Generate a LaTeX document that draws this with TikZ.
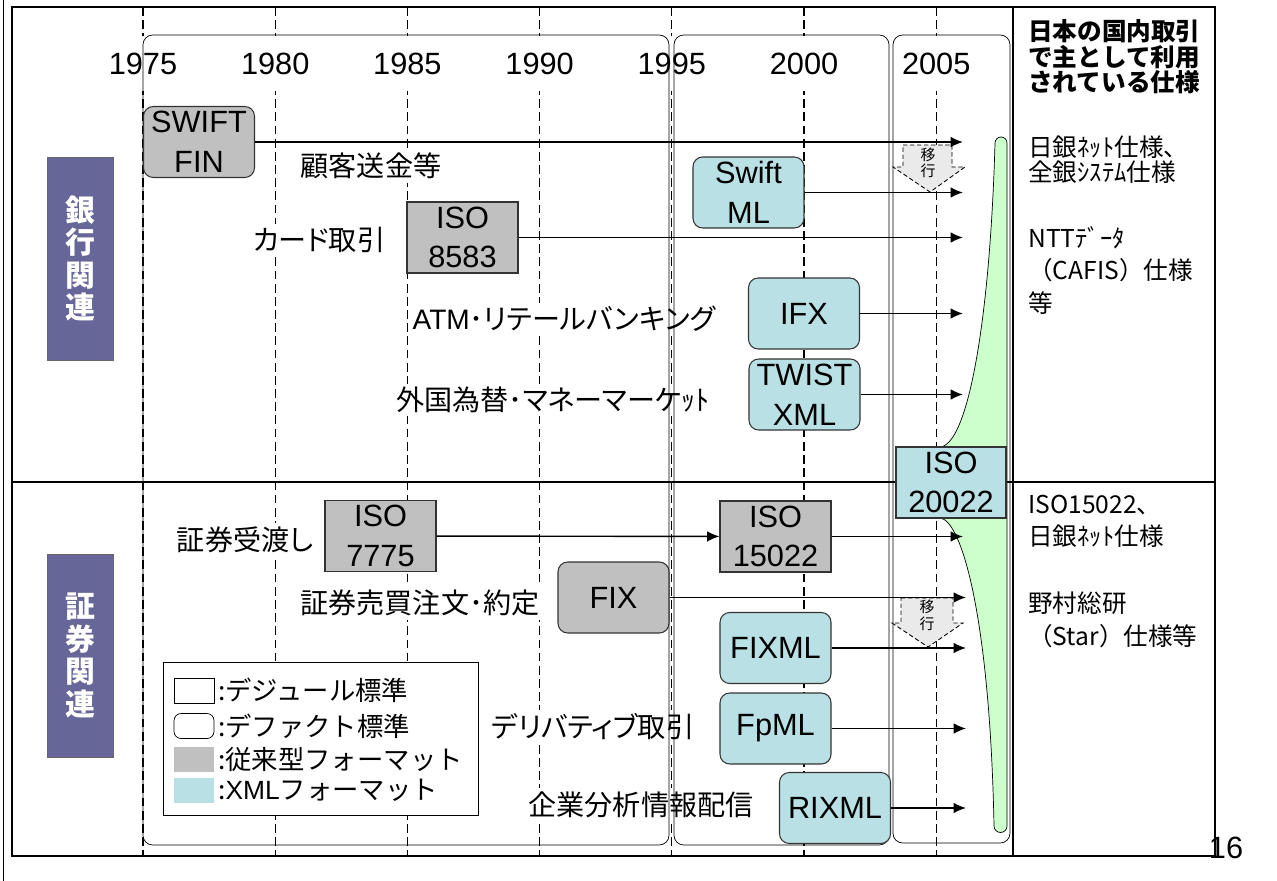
\documentclass[tikz,border=0pt]{standalone}
\usepackage{fontspec}
\setmainfont{Liberation Sans}
\newfontfamily\jp[RawFeature=+palt]{Noto Sans CJK JP}
\newfontfamily\jpf{Noto Sans CJK JP}
\usetikzlibrary{positioning,arrows.meta}

\definecolor{oldgray}{RGB}{192,192,192}
\definecolor{xmlcyan}{RGB}{185,224,228}
\definecolor{sidepurple}{RGB}{102,102,153}
\definecolor{isogreen}{RGB}{204,255,204}
\definecolor{movegray}{RGB}{234,234,234}

\tikzset{
  yearline/.style={line width=0.6pt,dash pattern=on 5pt off 2.5pt},
  yearlbl/.style={fill=white,minimum height=1.1cm,inner sep=1pt,font=\fontsize{17.5}{20}\selectfont},
  fmt/.style={draw=black!80,line width=0.6pt,minimum width=2.22cm,minimum height=1.42cm,inner sep=0pt,align=center,font=\fontsize{17.5}{22.5}\selectfont},
  oldfmt/.style={fmt,fill=oldgray},
  xmlfmt/.style={fmt,fill=xmlcyan},
  defacto/.style={rounded corners=5.5pt},
  usage/.style={fill=white,inner sep=2pt,font=\jp\fontsize{16}{18}\selectfont},
  arr/.style={-{Latex[length=7pt,width=6pt]},line width=0.8pt},
  sidebox/.style={draw=black!60,fill=sidepurple,text=white,minimum width=1.32cm,minimum height=4.06cm,align=center,font=\jpf\bfseries\fontsize{17}{18.5}\selectfont},
  movearrow/.style={draw,fill=movegray,dash pattern=on 2.5pt off 1.5pt,line width=0.5pt},
  movelbl/.style={align=center,inner sep=0pt,font=\jpf\fontsize{8.5}{9.5}\selectfont},
  swatch/.style={minimum width=0.8cm,minimum height=0.5cm,inner sep=0pt},
  legtext/.style={inner sep=1pt,font=\jpf\fontsize{15}{17}\selectfont},
  note/.style={anchor=west,align=left,inner sep=0pt,font=\jpf\fontsize{14}{14.5}\selectfont},
}

\begin{document}
\begin{tikzpicture}[x=0.02cm,y=-0.02cm]
\useasboundingbox (0,0) rectangle (1277,881);
%枠
\draw[thin] (3,0)--(3,881);
\draw[line width=1.6pt] (12,7) rectangle (1215,856);
\draw[line width=1pt] (1013,7)--(1013,856);
%年の目盛り
\foreach \yr [count=\i from 0] in {1975,1980,1985,1990,1995,2000,2005}{
  \draw[yearline] ({143+132.2*\i},7)--({143+132.2*\i},856);
  \node[yearlbl] (y\yr) at ({143+132.2*\i},64) {\yr};
}
%業務
\node[usage] (remit) at (371,166) {顧客送金等};
\node[usage] (card) at (319,240) {カード取引};
\node[usage] (retail) at (564,319) {{\rmfamily ATM}･リテールバンキング};
\node[usage] (forex) at (553,400) {外国為替･マネーマーケｯﾄ};
\node[usage] (settle) at (245,540) {証券受渡し};
\node[usage] (trade) at (420,603) {証券売買注文･約定};
\node[usage] (deriv) at (593,727) {デリバティブ取引};
\node[usage] (research) at (641,805) {企業分析情報配信};
%期間
\draw[defacto] (143,35) rectangle (669,845);
\draw[defacto] (674,35) rectangle (889,845);
\draw[defacto] (893,35) rectangle (1010,843);
\draw[line width=0.8pt] (12,482)--(1215,482);
%ISO 20022 へ集約
\draw[fill=isogreen] (940,447) .. controls (968,445) and (990,320) .. (995,143)
  arc[start angle=180,end angle=360,radius=6] -- (1007,826)
  arc[start angle=0,end angle=180,radius=6.5]
  .. controls (990,620) and (962,520) .. (940,518) -- cycle;
%フォーマット
\node[oldfmt,defacto] (swiftfin) at (199,142) {SWIFT\\FIN};
\node[oldfmt] (iso8583) at (462.5,237.5) {ISO\\8583};
\node[xmlfmt,defacto] (swiftml) at (748.5,192.5) {Swift\\ML};
\node[xmlfmt,defacto] (ifx) at (804,313.5) {IFX};
\node[xmlfmt,defacto] (twist) at (804.5,394.5) {TWIST\\XML};
\node[xmlfmt,minimum width=2.2cm] (iso20022) at (951,482.5) {ISO\\20022};
\node[oldfmt] (iso7775) at (380.5,536) {ISO\\7775};
\node[oldfmt] (iso15022) at (775.5,536.5) {ISO\\15022};
\node[oldfmt,defacto] (fix) at (613.5,597.5) {FIX};
\node[xmlfmt,defacto] (fixml) at (775.5,648) {FIXML};
\node[xmlfmt,defacto] (fpml) at (775.5,728.5) {FpML};
\node[xmlfmt,defacto] (rixml) at (835,808) {RIXML};
%移行
\draw[movearrow] (903,145)--(952,145)--(952,167)--(965,167)--(930,192)--(893,167)--(903,167)--cycle;
\node[movelbl] (move1) at (928,163) {移\\行};
\draw[movearrow] (901,598)--(953,598)--(953,623)--(963,623)--(928,647)--(892,623)--(901,623)--cycle;
\node[movelbl] (move2) at (927,615) {移\\行};
%矢印
\coordinate (tipA) at (963,0);
\coordinate (tipB) at (966,0);
\draw[arr] (swiftfin.east) -- (swiftfin.east -| tipA);
\draw[arr] (swiftml.east) -- (swiftml.east -| tipA);
\draw[arr] (iso8583.east) -- (iso8583.east -| tipA);
\draw[arr] (ifx.east) -- (ifx.east -| tipA);
\draw[arr] (twist.east) -- (twist.east -| tipA);
\draw[arr] (iso7775) -- (iso15022);
\draw[arr] (iso15022.east) -- (iso15022.east -| tipA);
\draw[arr] (fix.east) -- (fix.east -| tipB);
\draw[arr] (fixml.east) -- (fixml.east -| tipB);
\draw[arr] (fpml.east) -- (fpml.east -| tipB);
\draw[arr] (rixml.east) -- (rixml.east -| tipB);
%凡例
\node[draw,fill=white,minimum width=6.3cm,minimum height=3.06cm,inner sep=0pt] (legend) at (320.5,738.5) {};
\node[swatch,draw] (sw1) at (194,690.5) {};
\node[swatch,draw,rounded corners=4pt] (sw2) at (194,726) {};
\node[swatch,fill=oldgray] (sw3) at (194,759.5) {};
\node[swatch,fill=xmlcyan] (sw4) at (194,790.5) {};
\node[legtext,right=1pt of sw1] (leg1) {:デジュール標準};
\node[legtext,right=1pt of sw2] (leg2) {:デファクト標準};
\node[legtext,right=1pt of sw3] (leg3) {:従来型フォーマット};
\node[legtext,right=1pt of sw4] (leg4) {:{\rmfamily XML}フォーマット};
%分野
\node[sidebox] (banking) at (80,258.5) {銀\\行\\関\\連};
\node[sidebox] (securities) at (80,655.5) {証\\券\\関\\連};
%国内の仕様
\node[note,font=\jpf\bfseries\fontsize{14}{14.5}\selectfont] (title) at (1028,57) {日本の国内取引\\で主として利用\\されている仕様};
\node[note] (bankspec) at (1028,159.5) {日銀ﾈｯﾄ仕様、\\全銀ｼｽﾃﾑ仕様};
\node[note,font=\jpf\fontsize{14}{18.5}\selectfont] (cardspec) at (1028,270) {NTTﾃﾞｰﾀ\\（CAFIS）仕様\\等};
\node[note,font=\jpf\fontsize{14}{18.5}\selectfont] (secspec) at (1028,521.5) {ISO15022、\\日銀ﾈｯﾄ仕様};
\node[note,font=\jpf\fontsize{14}{18.5}\selectfont] (fixspec) at (1028,620) {野村総研\\（Star）仕様等};
\node[font=\fontsize{17.5}{20}\selectfont] (pageno) at (1226,848) {16};
\end{tikzpicture}
\end{document}
